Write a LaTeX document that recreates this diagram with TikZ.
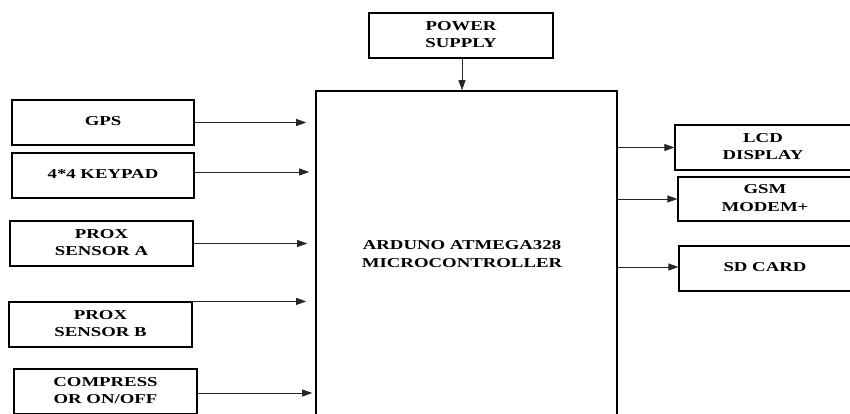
\documentclass[tikz,border=0pt]{standalone}
\usepackage{fontspec}
\setmainfont{Liberation Serif}
\usepackage{tikz}
\usetikzlibrary{arrows.meta}

\newcommand{\wtext}[1]{\scalebox{1.38}[1]{\begin{tabular}{@{}c@{}}#1\end{tabular}}}

\tikzset{
	blk/.style={draw, line width=1.2pt, rectangle, inner sep=0pt,
		font=\fontsize{13.6}{17.3}\selectfont\bfseries},
	sig/.style={line width=0.7pt, draw=black!85, -{Triangle[length=10pt,width=7pt]}}
}

\begin{document}
\begin{tikzpicture}[x=1pt,y=-1pt]

\useasboundingbox (0,0) rectangle (850,413);
\clip (0,0) rectangle (850,413);

% controller and supply
\node[blk, line width=1.6pt, minimum width=301pt, minimum height=326pt] (mcu) at (466.5,254) {};
\node[font=\fontsize{13.6}{17.3}\selectfont\bfseries] (mcutext) at (462,255) {\wtext{ARDUNO ATMEGA328\\MICROCONTROLLER}};
\node[blk, minimum width=184pt, minimum height=45pt] (power) at (461,35.5) {\wtext{POWER\\SUPPLY}};

% inputs
\node[blk, minimum width=182pt, minimum height=45pt] (gps) at (103,122.5) {\wtext{GPS}};
\node[blk, minimum width=182pt, minimum height=45pt] (keypad) at (103,175.5) {\wtext{4*4 KEYPAD}};
\node[blk, minimum width=183pt, minimum height=45pt] (proxa) at (101.5,243.5) {\wtext{PROX\\SENSOR A}};
\node[blk, minimum width=183pt, minimum height=45pt] (proxb) at (100.5,324.5) {\wtext{PROX\\SENSOR B}};
\node[blk, minimum width=183pt, minimum height=45pt] (compress) at (105.5,391.5) {\wtext{COMPRESS\\OR ON/OFF}};

% outputs
\node[blk, minimum width=176pt, minimum height=45pt] (lcd) at (763,147.5) {\wtext{LCD\\DISPLAY}};
\node[blk, minimum width=174pt, minimum height=44pt] (gsm) at (765,199) {\wtext{GSM\\MODEM+}};
\node[blk, minimum width=172pt, minimum height=45pt] (sd) at (765,268.5) {\wtext{SD CARD}};

\draw[sig] (power.south -| 462,0) -- (mcu.north -| 462,0);

\draw[sig, shorten >=9pt] (gps.east) -- (gps.east -| mcu.west);
\draw[sig, shorten >=6pt] (keypad.east |- 0,172) -- (mcu.west |- 0,172);
\draw[sig, shorten >=8pt] (proxa.east) -- (proxa.east -| mcu.west);
\draw[sig, shorten >=9pt] (proxb.north east) -- (proxb.north east -| mcu.west);
\draw[sig, shorten >=3pt] (compress.east |- 0,393) -- (mcu.west |- 0,393);

\draw[sig] (mcu.east |- lcd.west) -- (lcd.west);
\draw[sig] (mcu.east |- gsm.west) -- (gsm.west);
\draw[sig] (mcu.east |- 0,267) -- (sd.west |- 0,267);

\end{tikzpicture}
\end{document}
